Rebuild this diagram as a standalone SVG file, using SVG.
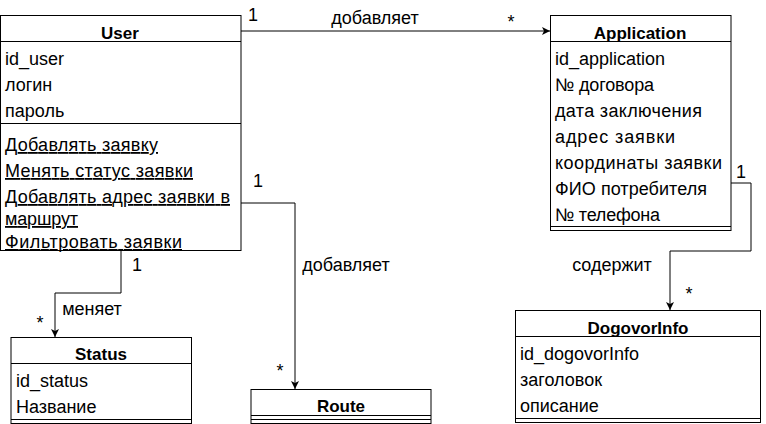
<svg xmlns="http://www.w3.org/2000/svg" width="766" height="424" viewBox="0 0 766 424">
<defs>
<marker id="arr" markerWidth="10" markerHeight="10" refX="8" refY="4" orient="auto" markerUnits="userSpaceOnUse">
<path d="M0,0 L8,4 L0,8 L2,4 z" fill="#000"/>
</marker>
<style>
text{font-family:"Liberation Sans",Arial,Helvetica,sans-serif;font-size:18px;fill:#000}
.h{font-weight:bold;text-anchor:middle;font-size:17px}
.u{text-decoration:underline}
.box{fill:#fff;stroke:#000;stroke-width:1}
.ln{stroke:#000;stroke-width:1;fill:none}
.c{text-anchor:middle}
</style>
</defs>
<rect width="766" height="424" fill="#fff"/>
<g id="edges">
<path class="ln" d="M241,31 L550,31" marker-end="url(#arr)"/>
<path class="ln" d="M241,203 L295,203 L295,389" marker-end="url(#arr)"/>
<path class="ln" d="M121,250 L121,293 L55,293 L55,337" marker-end="url(#arr)"/>
<path class="ln" d="M731,183 L751,183 L751,251 L670,251 L670,310" marker-end="url(#arr)"/>
<text x="253" y="21" class="c">1</text>
<text x="375" y="24" class="c">добавляет</text>
<text x="511" y="28" class="c">*</text>
<text x="258" y="187" class="c">1</text>
<text x="346" y="271" class="c">добавляет</text>
<text x="280" y="377" class="c">*</text>
<text x="137" y="271" class="c">1</text>
<text x="92" y="315" class="c">меняет</text>
<text x="40" y="329" class="c">*</text>
<text x="741" y="178" class="c">1</text>
<text x="612" y="271" class="c">содержит</text>
<text x="689" y="300" class="c">*</text>
</g>
<g id="user">
<rect class="box" x="0.5" y="15.5" width="240.5" height="235"/>
<line class="ln" x1="0.5" y1="41.5" x2="241" y2="41.5"/>
<line class="ln" x1="0.5" y1="123.5" x2="241" y2="123.5"/>
<text x="120" y="39" class="h">User</text>
<text x="5" y="65">id_user</text>
<text x="5" y="91">логин</text>
<text x="5" y="117">пароль</text>
<text x="5" y="151" class="u" textLength="153">Добавлять заявку</text>
<text x="5" y="177" class="u" textLength="188">Менять статус заявки</text>
<text x="5" y="203" class="u" textLength="225">Добавлять адрес заявки в</text>
<text x="5" y="225" class="u" textLength="73">маршрут</text>
<text x="5" y="248" class="u" textLength="177">Фильтровать заявки</text>
</g>
<g id="application">
<rect class="box" x="550.5" y="15.5" width="180.5" height="215"/>
<line class="ln" x1="550.5" y1="41.5" x2="731" y2="41.5"/>
<line class="ln" x1="550.5" y1="226.5" x2="731" y2="226.5"/>
<text x="640" y="39" class="h">Application</text>
<text x="555" y="65" textLength="110">id_application</text>
<text x="555" y="91" textLength="99">№ договора</text>
<text x="555" y="117" textLength="147">дата заключения</text>
<text x="555" y="143" textLength="120">адрес заявки</text>
<text x="555" y="169" textLength="167">координаты заявки</text>
<text x="555" y="195" textLength="152">ФИО потребителя</text>
<text x="555" y="221" textLength="105">№ телефона</text>
</g>
<g id="status">
<rect class="box" x="11" y="337.5" width="180.5" height="86"/>
<line class="ln" x1="11" y1="363.5" x2="191.5" y2="363.5"/>
<line class="ln" x1="11" y1="419.5" x2="191.5" y2="419.5"/>
<text x="101" y="360" class="h">Status</text>
<text x="16" y="387">id_status</text>
<text x="16" y="413">Название</text>
</g>
<g id="route">
<rect class="box" x="251" y="389.5" width="180" height="34"/>
<line class="ln" x1="251" y1="415.5" x2="431" y2="415.5"/>
<line class="ln" x1="251" y1="419.5" x2="431" y2="419.5"/>
<text x="341" y="412" class="h">Route</text>
</g>
<g id="dogovorinfo">
<rect class="box" x="515.5" y="310.5" width="245" height="112"/>
<line class="ln" x1="515.5" y1="336.5" x2="760.5" y2="336.5"/>
<line class="ln" x1="515.5" y1="418.5" x2="760.5" y2="418.5"/>
<text x="638" y="334" class="h">DogovorInfo</text>
<text x="520" y="360">id_dogovorInfo</text>
<text x="520" y="386">заголовок</text>
<text x="520" y="412">описание</text>
</g>
</svg>
